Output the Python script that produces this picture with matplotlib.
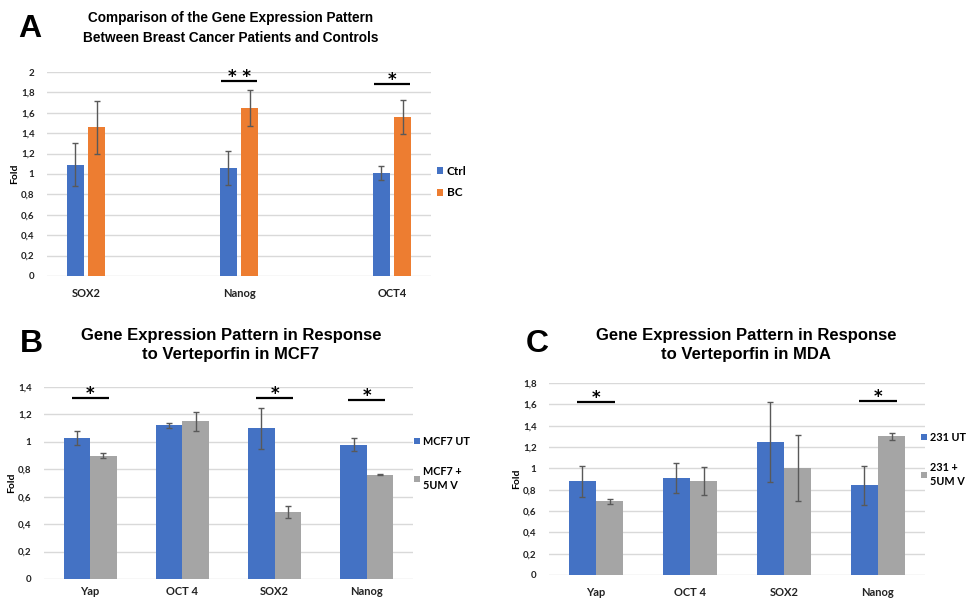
import numpy as np
import matplotlib.pyplot as plt
from matplotlib.ticker import MultipleLocator, FuncFormatter

#%% Data

# A - patients vs controls
genes_a = ['SOX2', 'Nanog', 'OCT4']
ctrl = [1.09, 1.06, 1.01]
ctrl_err = [0.21, 0.17, 0.07]
bc = [1.46, 1.65, 1.56]
bc_err = [0.26, 0.175, 0.17]
sig_a_idx = [1, 2]
sig_a_y = [1.91, 1.88]
sig_a_txt = ['**', '*']

# B - MCF7
genes_b = ['Yap', 'OCT 4', 'SOX2', 'Nanog']
mcf7_ut = [1.03, 1.12, 1.10, 0.98]
mcf7_ut_err = [0.05, 0.02, 0.15, 0.05]
mcf7_v = [0.90, 1.15, 0.49, 0.76]
mcf7_v_err = [0.02, 0.07, 0.045, 0.005]
sig_b_idx = [0, 2, 3]
sig_b_y = [1.32, 1.32, 1.305]

# C - MDA
genes_c = ['Yap', 'OCT 4', 'SOX2', 'Nanog']
mda_ut = [0.88, 0.91, 1.25, 0.84]
mda_ut_err = [0.145, 0.14, 0.375, 0.18]
mda_v = [0.69, 0.88, 1.00, 1.30]
mda_v_err = [0.02, 0.13, 0.31, 0.035]
sig_c_idx = [0, 3]
sig_c_y = [1.62, 1.63]

#%% Style

BLUE = '#4472C4'
ORANGE = '#ED7D31'
GREY = '#A5A5A5'
GRID = '#D9D9D9'
ERR = '#595959'
TICKFONT = 'Lato'
TITLEFONT = 'Liberation Sans'

W, H = 967, 599
fig = plt.figure(figsize=(W/100, H/100), dpi=100)


def px_axes(left, right, top, bottom):
    return fig.add_axes([left/W, 1 - bottom/H, (right-left)/W, (bottom-top)/H])


def comma(v, pos):
    return f"{v:g}".replace('.', ',')


def panel(ax, cats, s1, e1, s2, e2, names, colors, width, off, pad,
          ymax, sig_idx, sig_y, sig_txt, sig_half, xpad):
    x = np.arange(len(cats))
    b1 = ax.bar(x - off, s1, width, color=colors[0], label=names[0], zorder=2)
    b2 = ax.bar(x + off, s2, width, color=colors[1], label=names[1], zorder=2)
    ax.errorbar(x - off, s1, yerr=e1, fmt='none', ecolor=ERR, elinewidth=1,
                capsize=2.5, capthick=1, zorder=3)
    ax.errorbar(x + off, s2, yerr=e2, fmt='none', ecolor=ERR, elinewidth=1,
                capsize=2.5, capthick=1, zorder=3)
    for i, y, t in zip(sig_idx, sig_y, sig_txt):
        ax.plot([i - sig_half, i + sig_half], [y, y], color='black', lw=1.6,
                solid_capstyle='butt', zorder=4)
        ax.annotate(' '.join(t), (i, y), xytext=(0, 4),
                    textcoords='offset pixels', ha='center', va='center',
                    fontsize=12, fontweight='bold', family='DejaVu Sans',
                    zorder=4)
    ax.set_xlim(-pad, len(cats) - 1 + pad)
    ax.set_ylim(0, ymax)
    ax.yaxis.set_major_locator(MultipleLocator(0.2))
    ax.yaxis.set_major_formatter(FuncFormatter(comma))
    ax.set_xticks(x, cats)
    ax.grid(axis='y', color=GRID, lw=1, zorder=0)
    ax.set_axisbelow(True)
    for s in ax.spines.values():
        s.set_visible(False)
    ax.tick_params(axis='both', length=0)
    ax.tick_params(axis='y', pad=9, labelsize=7, labelcolor='#222222')
    ax.tick_params(axis='x', pad=xpad, labelsize=8, labelcolor='#222222')
    for lab in ax.get_xticklabels() + ax.get_yticklabels():
        lab.set_family(TICKFONT)
        lab.set_fontweight('bold')
    ax.set_ylabel('Fold', fontsize=7.5, family=TICKFONT, fontweight='bold',
                  labelpad=1)
    return b1, b2


def add_legend(ax, anchor, spacing, size):
    leg = ax.legend(loc='upper left', bbox_to_anchor=anchor, frameon=False,
                    borderpad=0, handlelength=0.55, handleheight=0.55,
                    handletextpad=0.3, labelspacing=spacing,
                    prop={'family': TICKFONT, 'weight': 'bold', 'size': size})
    for t in leg.get_texts():
        t.set_linespacing(1.35)
    return leg


#%% Panel A
axA = px_axes(47, 431, 72, 276)
panel(axA, genes_a, ctrl, ctrl_err, bc, bc_err, ['Ctrl', 'BC'],
      [BLUE, ORANGE], 0.112, 0.071, 0.255, 2.0,
      sig_a_idx, sig_a_y, sig_a_txt, 0.12, 9)
add_legend(axA, (1.0, 0.57), 0.9, 8.5)
fig.text(231/W, 1 - 28/H,
         'Comparison of the Gene Expression Pattern\n'
         'Between Breast Cancer Patients and Controls',
         ha='center', va='center', fontsize=9.8, fontweight='bold',
         family=TITLEFONT, linespacing=1.55)
fig.text(18/W, 1 - 37/H, 'A', ha='left', va='baseline', fontsize=23,
         fontweight='bold', family=TITLEFONT)

#%% Panel B
axB = px_axes(44, 413, 387, 579)
panel(axB, genes_b, mcf7_ut, mcf7_ut_err, mcf7_v, mcf7_v_err,
      ['MCF7 UT', 'MCF7 +\n5UM V'], [BLUE, GREY], 0.288, 0.144, 0.5, 1.4,
      sig_b_idx, sig_b_y, ['*']*len(sig_b_idx), 0.2, 5)
add_legend(axB, (0.987, 0.775), 1.75, 7.8)
fig.text(231/W, 1 - 345/H,
         'Gene Expression Pattern in Response\nto Verteporfin in MCF7',
         ha='center', va='center', fontsize=12, fontweight='bold',
         family=TITLEFONT, linespacing=1.3)
fig.text(20/W, 1 - 352/H, 'B', ha='left', va='baseline', fontsize=23,
         fontweight='bold', family=TITLEFONT)

#%% Panel C
axC = px_axes(549, 925, 383, 575)
panel(axC, genes_c, mda_ut, mda_ut_err, mda_v, mda_v_err,
      ['231 UT', '231 +\n5UM V'], [BLUE, GREY], 0.287, 0.144, 0.5, 1.8,
      sig_c_idx, sig_c_y, ['*']*len(sig_c_idx), 0.197, 9)
add_legend(axC, (0.975, 0.775), 1.75, 7.8)
fig.text(746/W, 1 - 345/H,
         'Gene Expression Pattern in Response\nto Verteporfin in MDA',
         ha='center', va='center', fontsize=12, fontweight='bold',
         family=TITLEFONT, linespacing=1.3)
fig.text(526/W, 1 - 352/H, 'C', ha='left', va='baseline', fontsize=23,
         fontweight='bold', family=TITLEFONT)

fig.savefig('out.png', dpi=100, facecolor='white')
